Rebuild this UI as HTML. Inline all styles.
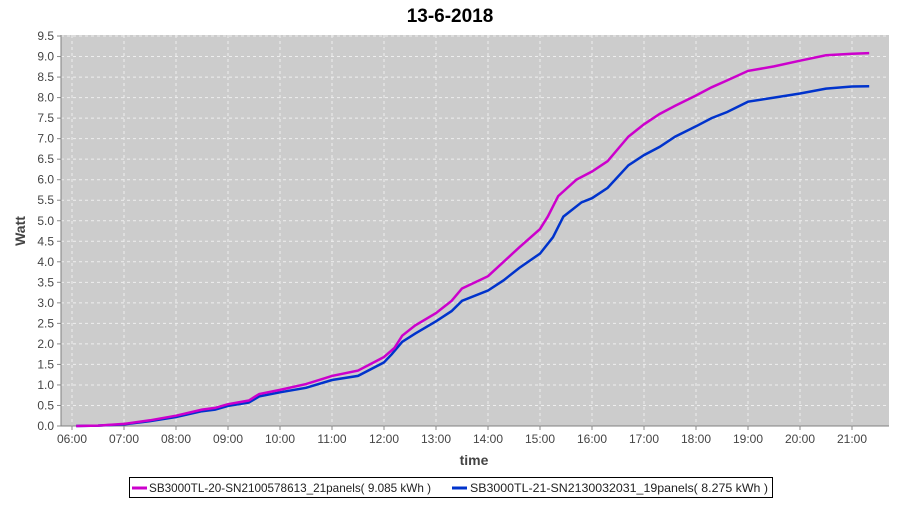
<!DOCTYPE html>
<html><head><meta charset="utf-8"><style>
body{margin:0;background:#fff;font-family:"Liberation Sans",sans-serif}
</style></head><body>
<svg width="900" height="500" xmlns="http://www.w3.org/2000/svg" font-family="Liberation Sans, sans-serif">
<text x="450" y="22" text-anchor="middle" font-size="19" font-weight="bold">13-6-2018</text>
<rect x="61" y="35" width="828" height="391" fill="#cccccc"/>
<g id="grid" stroke="#eeeeee" stroke-dasharray="3,3" stroke-width="1"></g>
<line x1="61" y1="35" x2="61" y2="426" stroke="#808080"/>
<line x1="61" y1="426" x2="889" y2="426" stroke="#808080"/>
<g id="ylab" font-size="12" fill="#444" text-anchor="end"></g>
<g id="xlab" font-size="12" fill="#444" text-anchor="middle"></g>
<text x="474" y="465" text-anchor="middle" font-size="14" font-weight="bold" fill="#444">time</text>
<text transform="translate(25,231) rotate(-90)" text-anchor="middle" font-size="14" font-weight="bold" fill="#444">Watt</text>
<polyline id="blue" fill="none" stroke="#0033cc" stroke-width="2.5"/>
<polyline id="mag" fill="none" stroke="#cc00cc" stroke-width="2.5"/>
<rect x="129.5" y="477.5" width="643" height="20" fill="#fff" stroke="#000"/>
<line x1="132" y1="488" x2="147" y2="488" stroke="#cc00cc" stroke-width="3"/>
<text x="149" y="492" font-size="12" fill="#222" textLength="282" lengthAdjust="spacingAndGlyphs">SB3000TL-20-SN2100578613_21panels( 9.085 kWh )</text>
<line x1="452" y1="488" x2="467" y2="488" stroke="#0033cc" stroke-width="3"/>
<text x="470" y="492" font-size="12" fill="#222" textLength="298" lengthAdjust="spacingAndGlyphs">SB3000TL-21-SN2130032031_19panels( 8.275 kWh )</text>
</svg>
<script>
var ns="http://www.w3.org/2000/svg";
function X(h){return 72+(h-6)*52}
function Y(v){return 426-v*41.05}
var g=document.getElementById('grid'),yl=document.getElementById('ylab'),xl=document.getElementById('xlab');
for(var i=0;i<=19;i++){var v=i*0.5,y=Y(v);
 if(i>0){var l=document.createElementNS(ns,'line');l.setAttribute('x1',61);l.setAttribute('x2',889);l.setAttribute('y1',y);l.setAttribute('y2',y);g.appendChild(l);}
 var t=document.createElementNS(ns,'text');t.setAttribute('x',54);t.setAttribute('y',y+4);t.textContent=v.toFixed(1);yl.appendChild(t);
 var tk=document.createElementNS(ns,'line');tk.setAttribute('x1',57);tk.setAttribute('x2',61);tk.setAttribute('y1',y);tk.setAttribute('y2',y);tk.setAttribute('stroke','#888');yl.appendChild(tk);}
for(var h=6;h<=21;h++){var x=X(h);
 var l=document.createElementNS(ns,'line');l.setAttribute('x1',x);l.setAttribute('x2',x);l.setAttribute('y1',35);l.setAttribute('y2',426);g.appendChild(l);
 var t=document.createElementNS(ns,'text');t.setAttribute('x',x);t.setAttribute('y',443);t.textContent=(h<10?'0':'')+h+':00';xl.appendChild(t);
 var tk=document.createElementNS(ns,'line');tk.setAttribute('x1',x);tk.setAttribute('x2',x);tk.setAttribute('y1',426);tk.setAttribute('y2',430);tk.setAttribute('stroke','#888');xl.appendChild(tk);}
var M=[[6.08,0],[6.5,0.01],[7,0.05],[7.5,0.14],[8,0.25],[8.5,0.4],[8.75,0.44],[9,0.53],[9.4,0.62],[9.6,0.78],[10,0.88],[10.5,1.02],[11,1.22],[11.5,1.35],[12,1.68],[12.2,1.9],[12.35,2.2],[12.6,2.45],[13,2.75],[13.3,3.05],[13.5,3.35],[14,3.65],[14.3,4.0],[14.6,4.35],[15,4.8],[15.15,5.1],[15.35,5.6],[15.7,6.0],[16,6.2],[16.3,6.45],[16.7,7.05],[17,7.35],[17.3,7.6],[17.6,7.8],[18,8.05],[18.3,8.25],[18.6,8.42],[19,8.65],[19.5,8.76],[20,8.9],[20.5,9.03],[21,9.07],[21.33,9.085]];
var B=[[6.08,0],[6.5,0.01],[7,0.04],[7.5,0.12],[8,0.22],[8.5,0.36],[8.75,0.4],[9,0.49],[9.4,0.57],[9.6,0.72],[10,0.82],[10.5,0.93],[11,1.12],[11.5,1.22],[12,1.55],[12.15,1.75],[12.35,2.05],[12.6,2.25],[13,2.55],[13.3,2.8],[13.5,3.05],[14,3.3],[14.3,3.55],[14.6,3.85],[15,4.2],[15.25,4.6],[15.45,5.1],[15.8,5.45],[16,5.55],[16.3,5.8],[16.7,6.35],[17,6.6],[17.3,6.8],[17.6,7.05],[18,7.3],[18.3,7.5],[18.6,7.65],[19,7.9],[19.5,8.0],[20,8.1],[20.5,8.22],[21,8.27],[21.33,8.275]];
function pts(a){return a.map(function(p){return X(p[0]).toFixed(1)+','+Y(p[1]).toFixed(1)}).join(' ')}
document.getElementById('mag').setAttribute('points',pts(M));
document.getElementById('blue').setAttribute('points',pts(B));
</script>
</body></html>
